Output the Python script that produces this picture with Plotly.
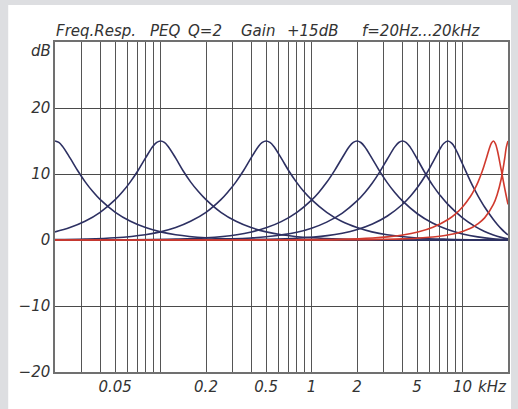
import plotly.graph_objects as go

# ---- data (frequency in kHz, level in dB) ----
f_20hz = [0.02, 0.0212, 0.0224, 0.0252, 0.0283, 0.0317, 0.0356, 0.0399, 0.0502, 0.0632, 0.0796, 0.1, 0.126, 0.2, 0.317, 0.632, 2, 20]
db_20hz = [15.0, 14.78, 14.21, 12.4, 10.49, 8.81, 7.34, 6.11, 4.19, 2.83, 1.88, 1.23, 0.8, 0.33, 0.13, 0.03, 0, 0]

f_100hz = [0.02, 0.0251, 0.0316, 0.0398, 0.0501, 0.0562, 0.0631, 0.0708, 0.0794, 0.0891, 0.0944, 0.1, 0.106, 0.112, 0.126, 0.141, 0.158, 0.178, 0.2, 0.251, 0.316, 0.398, 0.501, 0.631, 1.0, 1.58, 3.16, 10, 20]
db_100hz = [1.23, 1.88, 2.83, 4.19, 6.11, 7.34, 8.81, 10.49, 12.4, 14.21, 14.78, 15.0, 14.78, 14.21, 12.4, 10.49, 8.81, 7.34, 6.11, 4.19, 2.83, 1.88, 1.23, 0.8, 0.33, 0.13, 0.03, 0.0, 0.0]

f_500hz = [0.02, 0.0316, 0.05, 0.0792, 0.1, 0.126, 0.158, 0.2, 0.251, 0.281, 0.316, 0.354, 0.397, 0.446, 0.472, 0.5, 0.53, 0.561, 0.63, 0.706, 0.792, 0.889, 1.0, 1.26, 1.58, 2.0, 2.51, 3.16, 5.0, 7.92, 15.8, 20]
db_500hz = [0.05, 0.13, 0.33, 0.8, 1.23, 1.88, 2.83, 4.19, 6.11, 7.34, 8.81, 10.49, 12.4, 14.21, 14.78, 15.0, 14.78, 14.21, 12.4, 10.49, 8.81, 7.34, 6.11, 4.19, 2.83, 1.88, 1.23, 0.8, 0.31, 0.12, 0.02, 0.01]

f_2k = [0.02, 0.063, 0.126, 0.2, 0.32, 0.4, 0.5, 0.63, 0.8, 1.0, 1.12, 1.26, 1.42, 1.59, 1.78, 1.89, 2, 2.12, 2.25, 2.52, 2.83, 3.17, 3.56, 4, 5.02, 6.32, 7.96, 10, 12.6, 15.9, 20]
db_2k = [0, 0.03, 0.13, 0.32, 0.8, 1.22, 1.84, 2.78, 4.19, 6.04, 7.25, 8.74, 10.52, 12.39, 14.16, 14.78, 15.0, 14.77, 14.13, 12.34, 10.39, 8.69, 7.19, 5.92, 3.98, 2.57, 1.59, 0.92, 0.47, 0.19, 0.04]

f_4k = [0.02, 0.1, 0.2, 0.4, 0.5, 0.8, 1.0, 1.26, 1.6, 2.0, 2.25, 2.52, 2.83, 3.17, 3.56, 3.78, 4, 4.24, 4.49, 5.04, 5.66, 6.35, 7.13, 8, 10, 12, 14, 16, 18, 20]
db_4k = [0, 0.02, 0.08, 0.31, 0.48, 1.18, 1.79, 2.71, 4.08, 5.92, 7.17, 8.6, 10.32, 12.23, 14.11, 14.77, 15.0, 14.76, 14.11, 12.16, 10.11, 8.27, 6.72, 5.39, 3.35, 2.11, 1.3, 0.76, 0.4, 0.17]

f_8k = [0.02, 0.08, 0.253, 0.505, 0.8, 1.27, 1.6, 2.01, 2.53, 3.18, 4.01, 4.5, 5.05, 5.66, 6.35, 7.13, 7.5, 8, 8.5, 8.98, 10, 11.3, 12, 12.7, 14, 16, 17, 18, 19, 20]
db_8k = [0, 0, 0.03, 0.11, 0.27, 0.66, 1.03, 1.59, 2.42, 3.63, 5.42, 6.59, 8.02, 9.73, 11.77, 13.9, 14.62, 15.0, 14.64, 13.8, 11.51, 8.85, 7.66, 6.62, 5.0, 3.1, 2.35, 1.72, 1.19, 0.76]

f_16k = [0.02, 0.16, 0.506, 1.01, 1.6, 2.54, 3.19, 4.02, 5.06, 6.37, 8.02, 9.0, 10.0, 11.3, 12.0, 12.7, 13.5, 14.0, 14.3, 15.1, 15.5, 16.0, 16.5, 17.0, 18.0, 19.0, 20.0]
db_16k = [0.0, 0.0, 0.01, 0.05, 0.12, 0.31, 0.48, 0.77, 1.22, 1.94, 3.11, 3.97, 5.0, 6.62, 7.66, 8.85, 10.41, 11.51, 12.19, 13.97, 14.65, 15.0, 14.62, 13.59, 10.73, 7.88, 5.39]

f_20k = [0.02, 0.2, 0.632, 1.26, 2, 3.17, 3.99, 5.02, 6.32, 7.96, 10, 11.2, 12, 12.6, 14, 16, 17, 18, 19, 19.5, 20]
db_20k = [0, 0, 0, 0.02, 0.04, 0.11, 0.17, 0.27, 0.45, 0.75, 1.3, 1.74, 2.11, 2.43, 3.35, 5.39, 6.96, 9.16, 12.31, 14.07, 15.0]

blue_curves = [(f_20hz, db_20hz), (f_100hz, db_100hz), (f_500hz, db_500hz),
               (f_2k, db_2k), (f_4k, db_4k), (f_8k, db_8k)]
red_curves = [(f_16k, db_16k), (f_20k, db_20k)]

grid_freqs = [0.03, 0.04, 0.05, 0.06, 0.07, 0.08, 0.09,
              0.1, 0.2, 0.3, 0.4, 0.5, 0.6, 0.7, 0.8, 0.9,
              1, 2, 3, 4, 5, 6, 7, 8, 9, 10]
x_labels = {0.05: "0.05", 0.2: "0.2", 0.5: "0.5", 1: "1", 2: "2", 5: "5", 10: "10"}
y_ticks = [-20, -10, 0, 10, 20]
y_labels = ["\u221220", "\u221210", "0", "10", "20"]

title_parts = [("Freq.Resp.", 54), ("PEQ", 148), ("Q=2", 187), ("Gain", 240),
               ("+15dB", 286), ("f=20Hz...20kHz", 361)]

# ---- styles ----
W, H = 518, 409
ML, MR, MT, MB = 55, 8, 42, 37
PW, PH = W - ML - MR, H - MT - MB
BLUE = "#2d3062"
RED = "#d03a2e"
TXT = "#333333"
FONT = "DejaVu Sans"


def px_x(p):
    return (p - ML) / PW


def px_y(p):
    return (H - MB - p) / PH


fig = go.Figure()
for fx, fy in blue_curves:
    fig.add_trace(go.Scatter(x=fx, y=fy, mode="lines", line=dict(color=BLUE, width=1.6, shape="spline", smoothing=1.0),
                             hoverinfo="skip", showlegend=False))
for fx, fy in red_curves:
    fig.add_trace(go.Scatter(x=fx, y=fy, mode="lines", line=dict(color=RED, width=1.6, shape="spline", smoothing=1.0),
                             hoverinfo="skip", showlegend=False))

fig.update_xaxes(type="log", range=[-1.69897, 1.30103],
                 tickmode="array", tickvals=grid_freqs,
                 ticktext=[x_labels.get(v, "") for v in grid_freqs],
                 showgrid=True, gridcolor="#555555", gridwidth=1,
                 showline=True, mirror=True, linecolor="#707070", linewidth=1.5,
                 ticks="", zeroline=False,
                 tickfont=dict(family=FONT, size=15, color=TXT, style="italic"))
fig.update_yaxes(range=[-20, 30], tickmode="array", tickvals=y_ticks, ticktext=y_labels,
                 showgrid=True, gridcolor="#4a4a4a", gridwidth=1,
                 showline=True, mirror=True, linecolor="#707070", linewidth=1.5,
                 ticks="", zeroline=False,
                 tickfont=dict(family=FONT, size=15, color=TXT, style="italic"))

annotations = []
for txt, xl in title_parts:
    annotations.append(dict(text=txt, xref="paper", yref="paper", x=px_x(xl), y=px_y(31),
                            xanchor="left", yanchor="middle", showarrow=False,
                            font=dict(family=FONT, size=15, color=TXT, style="italic")))
annotations.append(dict(text="dB", xref="paper", yref="paper", x=px_x(53), y=px_y(51),
                        xanchor="right", yanchor="middle", showarrow=False,
                        font=dict(family=FONT, size=15, color=TXT, style="italic")))
annotations.append(dict(text="kHz", xref="paper", yref="paper", x=px_x(478), y=px_y(387),
                        xanchor="left", yanchor="middle", showarrow=False,
                        font=dict(family=FONT, size=15, color=TXT, style="italic")))

fig.update_layout(
    width=W, height=H,
    margin=dict(l=ML, r=MR, t=MT, b=MB, pad=0),
    paper_bgcolor="#dddee1", plot_bgcolor="white",
    annotations=annotations,
    shapes=[dict(type="rect", xref="paper", yref="paper", layer="below",
                 x0=px_x(8), x1=px_x(513), y0=px_y(412), y1=px_y(5),
                 fillcolor="white", line=dict(width=0))],
)

fig.write_html("out.html")
